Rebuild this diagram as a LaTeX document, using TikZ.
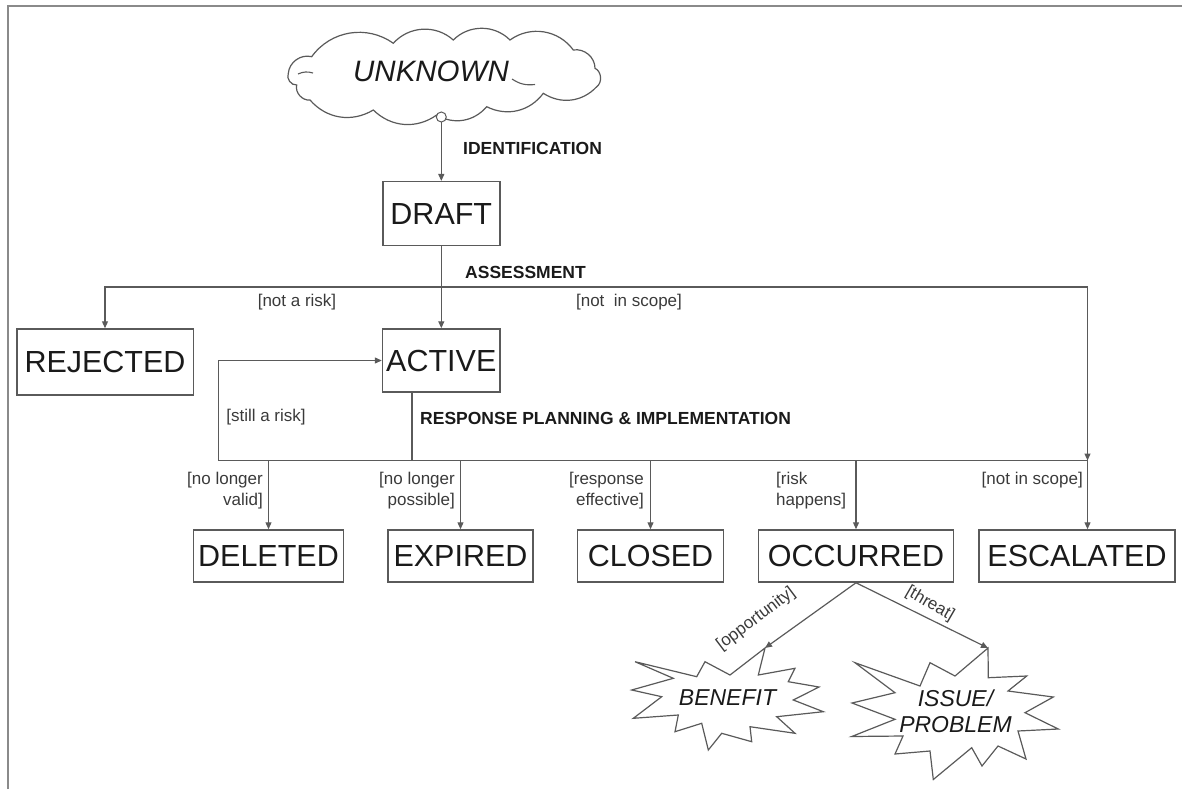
\documentclass[tikz,border=0pt]{standalone}
\usepackage{fontspec}
\setmainfont{Liberation Sans}
\usetikzlibrary{arrows.meta,calc}
\definecolor{txt}{HTML}{1A1A1A}
\definecolor{lblc}{HTML}{3A3A3A}
\definecolor{linec}{HTML}{5A5A5A}
\definecolor{boxc}{HTML}{5A5A5A}
\definecolor{framec}{HTML}{8A8A8A}
\begin{document}
\begin{tikzpicture}[x=1pt,y=-1pt,
  line/.style={draw=linec, line width=1.2pt},
  arr/.style={line, -{Triangle[length=7pt,width=6pt]}},
  box/.style={draw=boxc, line width=1.5pt, inner sep=0pt, text=txt, font=\fontsize{30.5}{36}\selectfont},
  lbl/.style={font=\fontsize{17}{21}\selectfont, text=lblc, inner sep=0pt},
  blbl/.style={font=\bfseries\fontsize{17.5}{21}\selectfont, text=txt, inner sep=0pt, anchor=west},
  starline/.style={draw=boxc, line width=1.2pt, line join=miter, fill=white},
  startxt/.style={font=\itshape\fontsize{23}{26}\selectfont, text=txt, inner sep=0pt, align=center},
]
\useasboundingbox (0,0) rectangle (1182,789);
% frame
\draw[draw=framec, line width=1.5pt] (8,789) -- (8,6) -- (1182,6);

% cloud
\draw[starline] (311.7,56.7) to[bend left=45] (393.3,43.3) to[bend left=45] (453.3,40)
  to[bend left=45] (510,40) to[bend left=45] (573.3,50) to[bend left=50] (595,68.3)
  to[bend left=60] (596.7,86.7) to[bend left=40] (543.3,93.3) to[bend left=40] (486.7,106.7)
  to[bend left=40] (436.7,115) to[bend left=40] (373.3,110) to[bend left=40] (310,100)
  to[bend left=55] (296.7,85) to[bend left=60] (288.3,73.3) to[bend left=50] (311.7,56.7) -- cycle;
\draw[draw=boxc, line width=1.1pt] (298,74) to[bend left=20] (313,73);
\draw[draw=boxc, line width=1.1pt] (512,79) to[bend right=20] (535,84.5);
\node[font=\itshape\fontsize{29.5}{34}\selectfont, text=txt, inner sep=0pt] (unknown) at (431,71.7) {UNKNOWN};
\node[circle, draw=boxc, line width=1pt, fill=white, minimum size=10pt, inner sep=0pt] (c) at (441.3,117) {};

% boxes
\node[box, minimum width=117pt, minimum height=64pt] (draft) at (441.3,213.7) {DRAFT};
\node[box, minimum width=176.5pt, minimum height=66pt] (rejected) at (105,362) {REJECTED};
\node[box, minimum width=117.5pt, minimum height=63pt] (active) at (441.3,360.5) {ACTIVE};
\node[box, minimum width=150pt, minimum height=52pt] (deleted) at (268.5,556) {DELETED};
\node[box, minimum width=145pt, minimum height=52pt] (expired) at (460.5,556) {EXPIRED};
\node[box, minimum width=146pt, minimum height=52pt] (closed) at (650.5,556) {CLOSED};
\node[box, minimum width=195pt, minimum height=52pt] (occurred) at (856,556) {OCCURRED};
\node[box, minimum width=196pt, minimum height=52pt] (escalated) at (1077,556) {ESCALATED};

% identification
\draw[arr] (c) -- (c |- draft.north);
\node[blbl] (ident) at (463,148) {IDENTIFICATION};

% assessment
\coordinate (j1) at (441.3,287);
\coordinate (j2) at (1087.5,460.5);
\draw[line] (draft.south) -- (j1);
\draw[arr] (j1) -- (active.north);
\draw[arr] (j1) -| (rejected.north);
\draw[arr] (j1) -| (j2);
\draw[arr] (j2) -- (j2 |- escalated.north);
\node[blbl] (assess) at (465,272) {ASSESSMENT};
\node[lbl] (notrisk) at (297,302) {[not a risk]};
\node[lbl] (notscope1) at (629,302) {[not\ \ in scope]};

% response planning
\coordinate (lp) at (218.5,460.5);
\coordinate (a1) at (412,460.5);
\draw[line] (lp) -- (j2);
\draw[arr] (lp) |- (active.west);
\draw[line] (a1 |- active.south) -- (a1);
\foreach \n in {deleted,expired,closed,occurred}
  \draw[arr] (\n.north |- a1) -- (\n.north);
\node[blbl] (resp) at (420,418) {RESPONSE PLANNING \& IMPLEMENTATION};
\node[lbl] (still) at (266,417) {[still a risk]};
\node[lbl, align=right, anchor=north east] (nlv) at (263,472) {[no longer\\valid]};
\node[lbl, align=right, anchor=north east] (nlp) at (455,472) {[no longer\\possible]};
\node[lbl, align=right, anchor=north east] (resef) at (644,472) {[response\\effective]};
\node[lbl, align=left, anchor=north west] (riskh) at (776,472) {[risk\\happens]};
\node[lbl, anchor=north east] (notscope2) at (1083,472) {[not in scope]};

% stars
\draw[starline] (635,661.7) -- (673.3,678.3) -- (631.7,690) -- (661.7,696.7) -- (633.3,718.3)
  -- (678.3,715) -- (675,731.7) -- (701.7,723.3) -- (708.3,750) -- (721.7,733.3)
  -- (751.7,741.7) -- (750,726.7) -- (795,733.3) -- (776.7,716.7) -- (823.3,711.7)
  -- (793.3,700) -- (819,687) -- (788.3,681.7) -- (795,668.3) -- (758.3,675)
  -- (765,648) -- (730,675) -- (705,661.7) -- (696.7,676.7) -- cycle;
\draw[starline] (855,662.7) -- (920,686) -- (930,662.7) -- (955,676) -- (988,648)
  -- (988.3,677.7) -- (1026.7,676) -- (1008,691) -- (1053.3,697) -- (1025,712.7)
  -- (1058.3,729) -- (1018,731) -- (1026,759) -- (998,746) -- (982,766)
  -- (971.7,747.7) -- (933.3,779.5) -- (930,751) -- (895,754) -- (903,736)
  -- (851.7,736.5) -- (895,719.3) -- (852,703) -- (895,692.7) -- cycle;
\node[startxt] (benefit) at (727.5,698) {BENEFIT};
\node[startxt] (issue) at (955.5,711) {ISSUE/\\PROBLEM};

\coordinate (btip) at (765,648);
\coordinate (itip) at (988,648);
\draw[arr] (occurred.south) -- (btip);
\draw[arr] (occurred.south) -- (itip);
\node[lbl, rotate=37] (opp) at (756,619) {[opportunity]};
\node[lbl, rotate=-30] (threat) at (930,604) {[threat]};
\end{tikzpicture}
\end{document}
